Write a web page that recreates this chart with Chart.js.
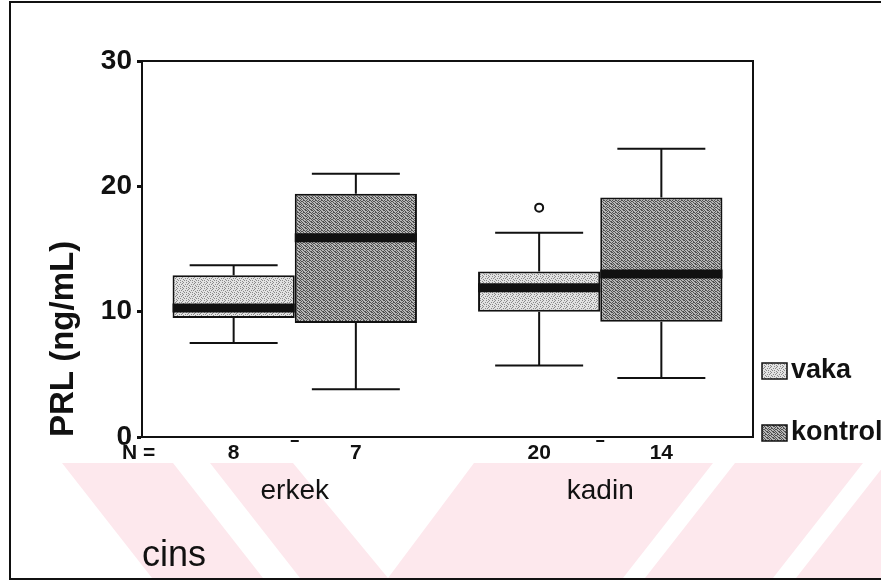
<!DOCTYPE html>
<html>
<head>
<meta charset="utf-8">
<title>PRL - cins</title>
<script src="https://cdn.jsdelivr.net/npm/chart.js@4.4.0/dist/chart.umd.min.js"></script>
<style>
    html, body { margin: 0; padding: 0; background: #fff; }
</style>
</head>
<body>
<canvas id="boxChart" width="881" height="584"></canvas>
<script>
// values
const categories = ['erkek', 'kadin'];
const seriesNames = ['vaka', 'kontrol'];
const yTicks = [0, 10, 20, 30];

const vakaMin = [7.5, 5.7];
const vakaQ1 = [9.5, 10.0];
const vakaMedian = [10.3, 11.9];
const vakaQ3 = [12.9, 13.2];
const vakaMax = [13.7, 16.3];
const vakaOutliers = [[], [18.3]];
const vakaN = [8, 20];

const kontrolMin = [3.8, 4.7];
const kontrolQ1 = [9.1, 9.2];
const kontrolMedian = [15.9, 13.0];
const kontrolQ3 = [19.4, 19.1];
const kontrolMax = [21.0, 23.0];
const kontrolOutliers = [[], []];
const kontrolN = [7, 14];

const FONT = "'Liberation Sans', Arial, sans-serif";
const INK = '#111';

// speckled fill like the scanned print
function makePattern(light, dark, mask) {
    const c = document.createElement('canvas');
    c.width = 6; c.height = 6;
    const g = c.getContext('2d');
    g.fillStyle = light;
    g.fillRect(0, 0, 6, 6);
    g.fillStyle = dark;
    for (let i = 0; i < mask.length; i++) {
        if (mask[i] === '1') g.fillRect(i % 6, Math.floor(i / 6), 1, 1);
    }
    return g.createPattern(c, 'repeat');
}
const vakaFill = makePattern('#e2e2e2', '#8a8a8a',
    '100100' + '001000' + '010001' + '000100' + '100010' + '001000');
const kontrolFill = makePattern('#b8b8b8', '#505050',
    '101001' + '010100' + '100110' + '011001' + '100100' + '010011');

function boxes(q1, q3) {
    return q1.map((v, i) => [v, q3[i]]);
}

// pale pink watermark stripes at the bottom of the scan
const watermark = [
    [[62, 463], [173, 463], [263, 578], [152, 578]],
    [[210, 463], [293, 463], [388, 578], [300, 578]],
    [[474, 463], [713, 463], [623, 578], [388, 578]],
    [[735, 463], [863, 463], [773, 578], [645, 578]],
    [[886, 463], [1000, 463], [910, 578], [796, 578]]
];

const boxPlugin = {
    id: 'boxExtras',
    beforeDraw(chart) {
        const ctx = chart.ctx;
        ctx.save();
        ctx.fillStyle = '#fde8ed';
        watermark.forEach(poly => {
            ctx.beginPath();
            poly.forEach((p, k) => k ? ctx.lineTo(p[0], p[1]) : ctx.moveTo(p[0], p[1]));
            ctx.closePath();
            ctx.fill();
        });
        ctx.strokeStyle = INK;
        ctx.lineWidth = 2;
        ctx.strokeRect(10, 2, 900, 577);
        ctx.restore();
    },
    afterDatasetsDraw(chart) {
        const ctx = chart.ctx;
        const y = chart.scales.y;
        const x = chart.scales.x;
        const area = chart.chartArea;
        ctx.save();
        ctx.strokeStyle = INK;

        chart.data.datasets.forEach((ds, i) => {
            const meta = chart.getDatasetMeta(i);
            meta.data.forEach((bar, j) => {
                const w = bar.width;
                const cx = bar.x;
                const cap = w * 0.36;
                const pq1 = y.getPixelForValue(ds.data[j][0]);
                const pq3 = y.getPixelForValue(ds.data[j][1]);
                const pmin = y.getPixelForValue(ds.stats.min[j]);
                const pmax = y.getPixelForValue(ds.stats.max[j]);

                // whiskers
                ctx.lineWidth = 2;
                ctx.beginPath();
                ctx.moveTo(cx, pq3); ctx.lineTo(cx, pmax);
                ctx.moveTo(cx - cap, pmax); ctx.lineTo(cx + cap, pmax);
                ctx.moveTo(cx, pq1); ctx.lineTo(cx, pmin);
                ctx.moveTo(cx - cap, pmin); ctx.lineTo(cx + cap, pmin);
                ctx.stroke();

                // median
                const pmed = y.getPixelForValue(ds.stats.median[j]);
                ctx.lineWidth = 9;
                ctx.beginPath();
                ctx.moveTo(cx - w / 2, pmed); ctx.lineTo(cx + w / 2, pmed);
                ctx.stroke();

                // outliers
                ctx.lineWidth = 2;
                ds.stats.outliers[j].forEach(v => {
                    ctx.beginPath();
                    ctx.arc(cx, y.getPixelForValue(v), 4, 0, Math.PI * 2);
                    ctx.stroke();
                });

                // N under each box
                ctx.fillStyle = INK;
                ctx.font = 'bold 21px ' + FONT;
                ctx.textAlign = 'center';
                ctx.textBaseline = 'middle';
                ctx.fillText(String(ds.stats.n[j]), cx, area.bottom + 16);
            });
        });

        ctx.textAlign = 'left';
        ctx.font = 'bold 21px ' + FONT;
        ctx.fillText('N =', 122, area.bottom + 16);

        // little category marks under the axis
        ctx.lineWidth = 2;
        categories.forEach((c, j) => {
            const px = x.getPixelForValue(j);
            ctx.beginPath();
            ctx.moveTo(px - 4, area.bottom + 4); ctx.lineTo(px + 4, area.bottom + 4);
            ctx.stroke();
        });

        // top and right sides of the plot frame
        ctx.lineWidth = 2;
        ctx.beginPath();
        ctx.moveTo(area.left, area.top); ctx.lineTo(area.right, area.top);
        ctx.lineTo(area.right, area.bottom);
        ctx.stroke();

        // legend
        ctx.font = 'bold 27px ' + FONT;
        ctx.textBaseline = 'middle';
        chart.data.datasets.forEach((ds, i) => {
            const ly = 371 + i * 62;
            ctx.fillStyle = ds.backgroundColor;
            ctx.fillRect(762, ly - 8, 25, 16);
            ctx.lineWidth = 1.5;
            ctx.strokeRect(762, ly - 8, 25, 16);
            ctx.fillStyle = INK;
            ctx.fillText(ds.label, 791, ly);
        });
        ctx.restore();
    }
};

const ctx = document.getElementById('boxChart').getContext('2d');
new Chart(ctx, {
    type: 'bar',
    data: {
        labels: categories,
        datasets: [
            {
                label: seriesNames[0],
                data: boxes(vakaQ1, vakaQ3),
                backgroundColor: vakaFill,
                borderColor: INK,
                borderWidth: 2,
                borderSkipped: false,
                stats: { min: vakaMin, median: vakaMedian, max: vakaMax, outliers: vakaOutliers, n: vakaN }
            },
            {
                label: seriesNames[1],
                data: boxes(kontrolQ1, kontrolQ3),
                backgroundColor: kontrolFill,
                borderColor: INK,
                borderWidth: 2,
                borderSkipped: false,
                stats: { min: kontrolMin, median: kontrolMedian, max: kontrolMax, outliers: kontrolOutliers, n: kontrolN }
            }
        ]
    },
    options: {
        responsive: false,
        animation: false,
        categoryPercentage: 0.8,
        barPercentage: 1.0,
        layout: { padding: { left: 10, right: 128, top: 61, bottom: 0 } },
        plugins: {
            legend: { display: false },
            tooltip: { enabled: false }
        },
        scales: {
            x: {
                afterFit: s => { s.height = 147; },
                grid: { drawOnChartArea: false, drawTicks: false },
                border: { display: true, color: INK, width: 2 },
                ticks: {
                    color: INK,
                    padding: 37,
                    font: { family: FONT, size: 28 }
                },
                title: {
                    display: true,
                    text: 'cins',
                    align: 'start',
                    color: INK,
                    font: { family: FONT, size: 36 },
                    padding: { top: 0, bottom: 6 }
                }
            },
            y: {
                min: 0,
                max: 30,
                afterFit: s => { s.width = 132; },
                afterBuildTicks: s => { s.ticks = yTicks.map(v => ({ value: v })); },
                grid: { drawOnChartArea: false, drawTicks: true, tickLength: 5, tickWidth: 3, tickColor: INK },
                border: { display: true, color: INK, width: 2 },
                ticks: {
                    color: INK,
                    padding: 5,
                    font: { family: FONT, size: 28, weight: 'bold' }
                },
                title: {
                    display: true,
                    text: 'PRL (ng/mL)',
                    align: 'start',
                    color: INK,
                    font: { family: FONT, size: 33, weight: 'bold' },
                    padding: { top: 34, bottom: 0 }
                }
            }
        }
    },
    plugins: [boxPlugin]
});
</script>
</body>
</html>
